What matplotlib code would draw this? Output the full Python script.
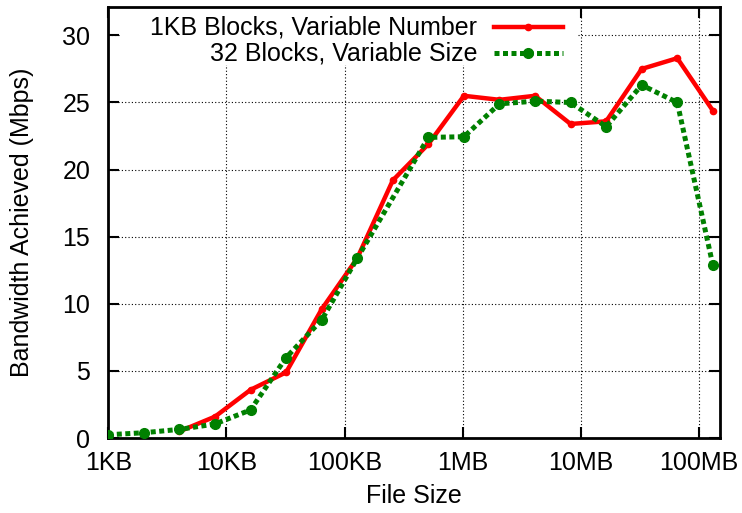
import matplotlib
matplotlib.use("Agg")
import matplotlib.pyplot as plt
from matplotlib.patches import Rectangle
from matplotlib.ticker import FixedLocator, NullLocator

plt.rcParams['font.family'] = ['Liberation Sans', 'DejaVu Sans']
FS = 18

# file sizes in KB (powers of two, 1KB .. 128MB)
sizes_kb = [2 ** i for i in range(18)]

# 1KB blocks, variable number (starts at 4KB)
fixed_block_sizes = sizes_kb[2:]
fixed_block_bw = [0.5, 1.6, 3.6, 4.9, 9.6, 13.4, 19.2, 21.9,
                  25.5, 25.2, 25.5, 23.4, 23.6, 27.5, 28.3, 24.4]

# 32 blocks, variable size (no run at 256KB)
var_block_sizes = sizes_kb[:8] + sizes_kb[9:]
var_block_bw = [0.25, 0.4, 0.65, 1.05, 2.1, 6.0, 8.8, 13.4, 22.4,
                22.45, 24.9, 25.1, 25.0, 23.2, 26.3, 25.0, 12.9]

series_labels = ['1KB Blocks, Variable Number', '32 Blocks, Variable Size']

xtick_vals = [1, 10, 100, 1000, 10000, 100000]
xtick_labels = ['1KB', '10KB', '100KB', '1MB', '10MB', '100MB']
ytick_vals = [0, 5, 10, 15, 20, 25, 30]

fig = plt.figure(figsize=(7.42, 5.13), dpi=100)
ax = fig.add_axes([0.146, 0.146, 0.824, 0.840])

ax.set_xscale('log')
ax.set_xlim(1, 150000)
ax.set_ylim(0, 32.1)

red_style = dict(color='#ff0000', lw=3.2, marker='o', ms=4.5, zorder=3)
green_style = dict(color='#008000', lw=3.6, ls=(0, (1, 0.7)), marker='o',
                   ms=7, zorder=3, dash_capstyle='butt')

ax.plot(fixed_block_sizes, fixed_block_bw, **red_style)
ax.plot(var_block_sizes, var_block_bw, **green_style)

ax.xaxis.set_major_locator(FixedLocator(xtick_vals))
ax.xaxis.set_minor_locator(NullLocator())
ax.set_xticks(xtick_vals)
ax.set_xticklabels(xtick_labels)
ax.set_yticks(ytick_vals)

ax.grid(True, which='major', color='black', ls=(0, (1, 2)), lw=0.8)
ax.set_axisbelow(True)

ax.tick_params(direction='in', length=8, width=1.5, labelsize=FS,
               top=True, right=True)
ax.tick_params(axis='x', pad=9)
ax.tick_params(axis='y', pad=13)
for sp in ax.spines.values():
    sp.set_linewidth(2)

ax.set_xlabel('File Size', fontsize=FS, labelpad=7)
ax.set_ylabel('Bandwidth Achieved (Mbps)', fontsize=FS, labelpad=20)

# key area, cleared like gnuplot does
ax.add_patch(Rectangle((0.021, 0.865), 0.746, 0.135, transform=ax.transAxes,
                       facecolor='white', edgecolor='none', zorder=1))

key_rows = [0.954, 0.893]
for label, style, y in zip(series_labels, [red_style, green_style], key_rows):
    ax.text(0.603, y, label, transform=ax.transAxes, ha='right', va='center',
            fontsize=FS, zorder=4)
    ax.plot([0.630, 0.6865, 0.743], [y, y, y], transform=ax.transAxes,
            markevery=[1], clip_on=False, **style)

fig.savefig('out.png', dpi=100)
